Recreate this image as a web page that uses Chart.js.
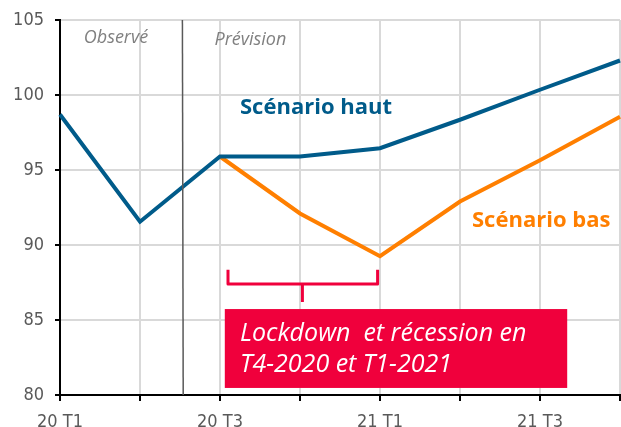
<!DOCTYPE html>
<html lang="fr">
<head>
<meta charset="utf-8">
<script src="https://cdn.jsdelivr.net/npm/chart.js@4.4.0/dist/chart.umd.min.js"></script>
<style>
  html, body { margin: 0; padding: 0; background: #fff; }
  .wrap { width: 621px; height: 427px; }
</style>
</head>
<body>
<div class="wrap"><canvas id="c"></canvas></div>
<script>
const quarters = ['20 T1', '20 T2', '20 T3', '20 T4', '21 T1', '21 T2', '21 T3', '21 T4'];
const scenarioHaut = [98.7, 91.55, 95.9, 95.9, 96.45, 98.35, 100.35, 102.3];
const scenarioBas = [null, null, 95.9, 92.1, 89.25, 92.9, 95.65, 98.55];
const yTicks = [80, 85, 90, 95, 100, 105];

const BLUE = '#005b8a';
const ORANGE = '#ff7f00';
const RED = '#f0003c';
const GRID = '#d9d9d9';
const TICK_FONT = "'Liberation Sans Narrow', 'DejaVu Sans Condensed', sans-serif";
const NOTE_FONT = "'Open Sans', 'Liberation Sans', sans-serif";

// overlays: divider, labels, bracket and box, placed in data units
const notes = {
  id: 'notes',
  afterDatasetsDraw(chart) {
    const { ctx, scales: { x, y } } = chart;
    ctx.save();

    // observed / forecast divider
    ctx.strokeStyle = '#595959';
    ctx.lineWidth = 1.5;
    ctx.beginPath();
    ctx.moveTo(x.getPixelForValue(1.53), y.getPixelForValue(105));
    ctx.lineTo(x.getPixelForValue(1.54), y.getPixelForValue(80));
    ctx.stroke();

    ctx.textBaseline = 'middle';
    ctx.textAlign = 'center';
    ctx.fillStyle = '#808080';
    ctx.font = 'italic 18px ' + NOTE_FONT;
    ctx.fillText('Observé', x.getPixelForValue(0.7), y.getPixelForValue(103.8));
    ctx.fillText('Prévision', x.getPixelForValue(2.38), y.getPixelForValue(103.65));

    ctx.textAlign = 'left';
    ctx.font = 'bold 22px ' + NOTE_FONT;
    ctx.fillStyle = BLUE;
    ctx.fillText('Scénario haut', x.getPixelForValue(2.25), y.getPixelForValue(99.15));
    ctx.fillStyle = ORANGE;
    ctx.fillText('Scénario bas', x.getPixelForValue(5.15), y.getPixelForValue(91.6));

    // bracket
    ctx.strokeStyle = RED;
    ctx.lineWidth = 3;
    ctx.lineJoin = 'round';
    ctx.beginPath();
    ctx.moveTo(x.getPixelForValue(2.1), y.getPixelForValue(88.35));
    ctx.lineTo(x.getPixelForValue(2.1), y.getPixelForValue(87.4));
    ctx.lineTo(x.getPixelForValue(3.97), y.getPixelForValue(87.4));
    ctx.lineTo(x.getPixelForValue(3.97), y.getPixelForValue(88.35));
    ctx.moveTo(x.getPixelForValue(3.03), y.getPixelForValue(87.4));
    ctx.lineTo(x.getPixelForValue(3.03), y.getPixelForValue(86.2));
    ctx.stroke();

    // box
    const bx0 = x.getPixelForValue(2.06), bx1 = x.getPixelForValue(6.34);
    const by0 = y.getPixelForValue(85.73), by1 = y.getPixelForValue(80.47);
    ctx.fillStyle = RED;
    ctx.fillRect(bx0, by0, bx1 - bx0, by1 - by0);
    ctx.fillStyle = '#fff';
    ctx.font = 'italic 25px ' + NOTE_FONT;
    ctx.fillText('Lockdown  et récession en', x.getPixelForValue(2.25), y.getPixelForValue(84.1));
    ctx.fillText('T4-2020 et T1-2021', x.getPixelForValue(2.25), y.getPixelForValue(82.0));

    ctx.restore();
  }
};

new Chart(document.getElementById('c'), {
  type: 'line',
  data: {
    labels: quarters,
    datasets: [
      { label: 'Scénario haut', data: scenarioHaut, borderColor: BLUE, borderWidth: 4, pointRadius: 0, tension: 0 },
      { label: 'Scénario bas', data: scenarioBas, borderColor: ORANGE, borderWidth: 4, pointRadius: 0, tension: 0 }
    ]
  },
  options: {
    responsive: true,
    maintainAspectRatio: false,
    animation: false,
    layout: { padding: { top: 20, right: 1, left: 0, bottom: 0 } },
    plugins: { legend: { display: false }, tooltip: { enabled: false } },
    scales: {
      x: {
        offset: false,
        grid: { color: GRID, lineWidth: 2, tickColor: '#000', tickLength: 6, drawTicks: true },
        border: { color: '#000', width: 2 },
        ticks: {
          color: '#595959',
          font: { family: TICK_FONT, size: 18 },
          padding: 11,
          maxRotation: 0,
          autoSkip: false,
          callback: (v, i) => (i % 2 === 0 ? quarters[i] : '')
        },
        afterFit: s => { s.height = 32; s.paddingLeft = 0; s.paddingRight = 0; }
      },
      y: {
        min: 80,
        max: 105,
        afterBuildTicks: s => { s.ticks = yTicks.map(v => ({ value: v })); },
        grid: { color: GRID, lineWidth: 2, tickColor: '#000', tickLength: 5 },
        border: { color: '#000', width: 2 },
        ticks: { color: '#595959', font: { family: TICK_FONT, size: 18 }, padding: 11 },
        afterFit: s => { s.width = 60; s.paddingTop = 0; s.paddingBottom = 0; }
      }
    }
  },
  plugins: [notes]
});
</script>
</body>
</html>
